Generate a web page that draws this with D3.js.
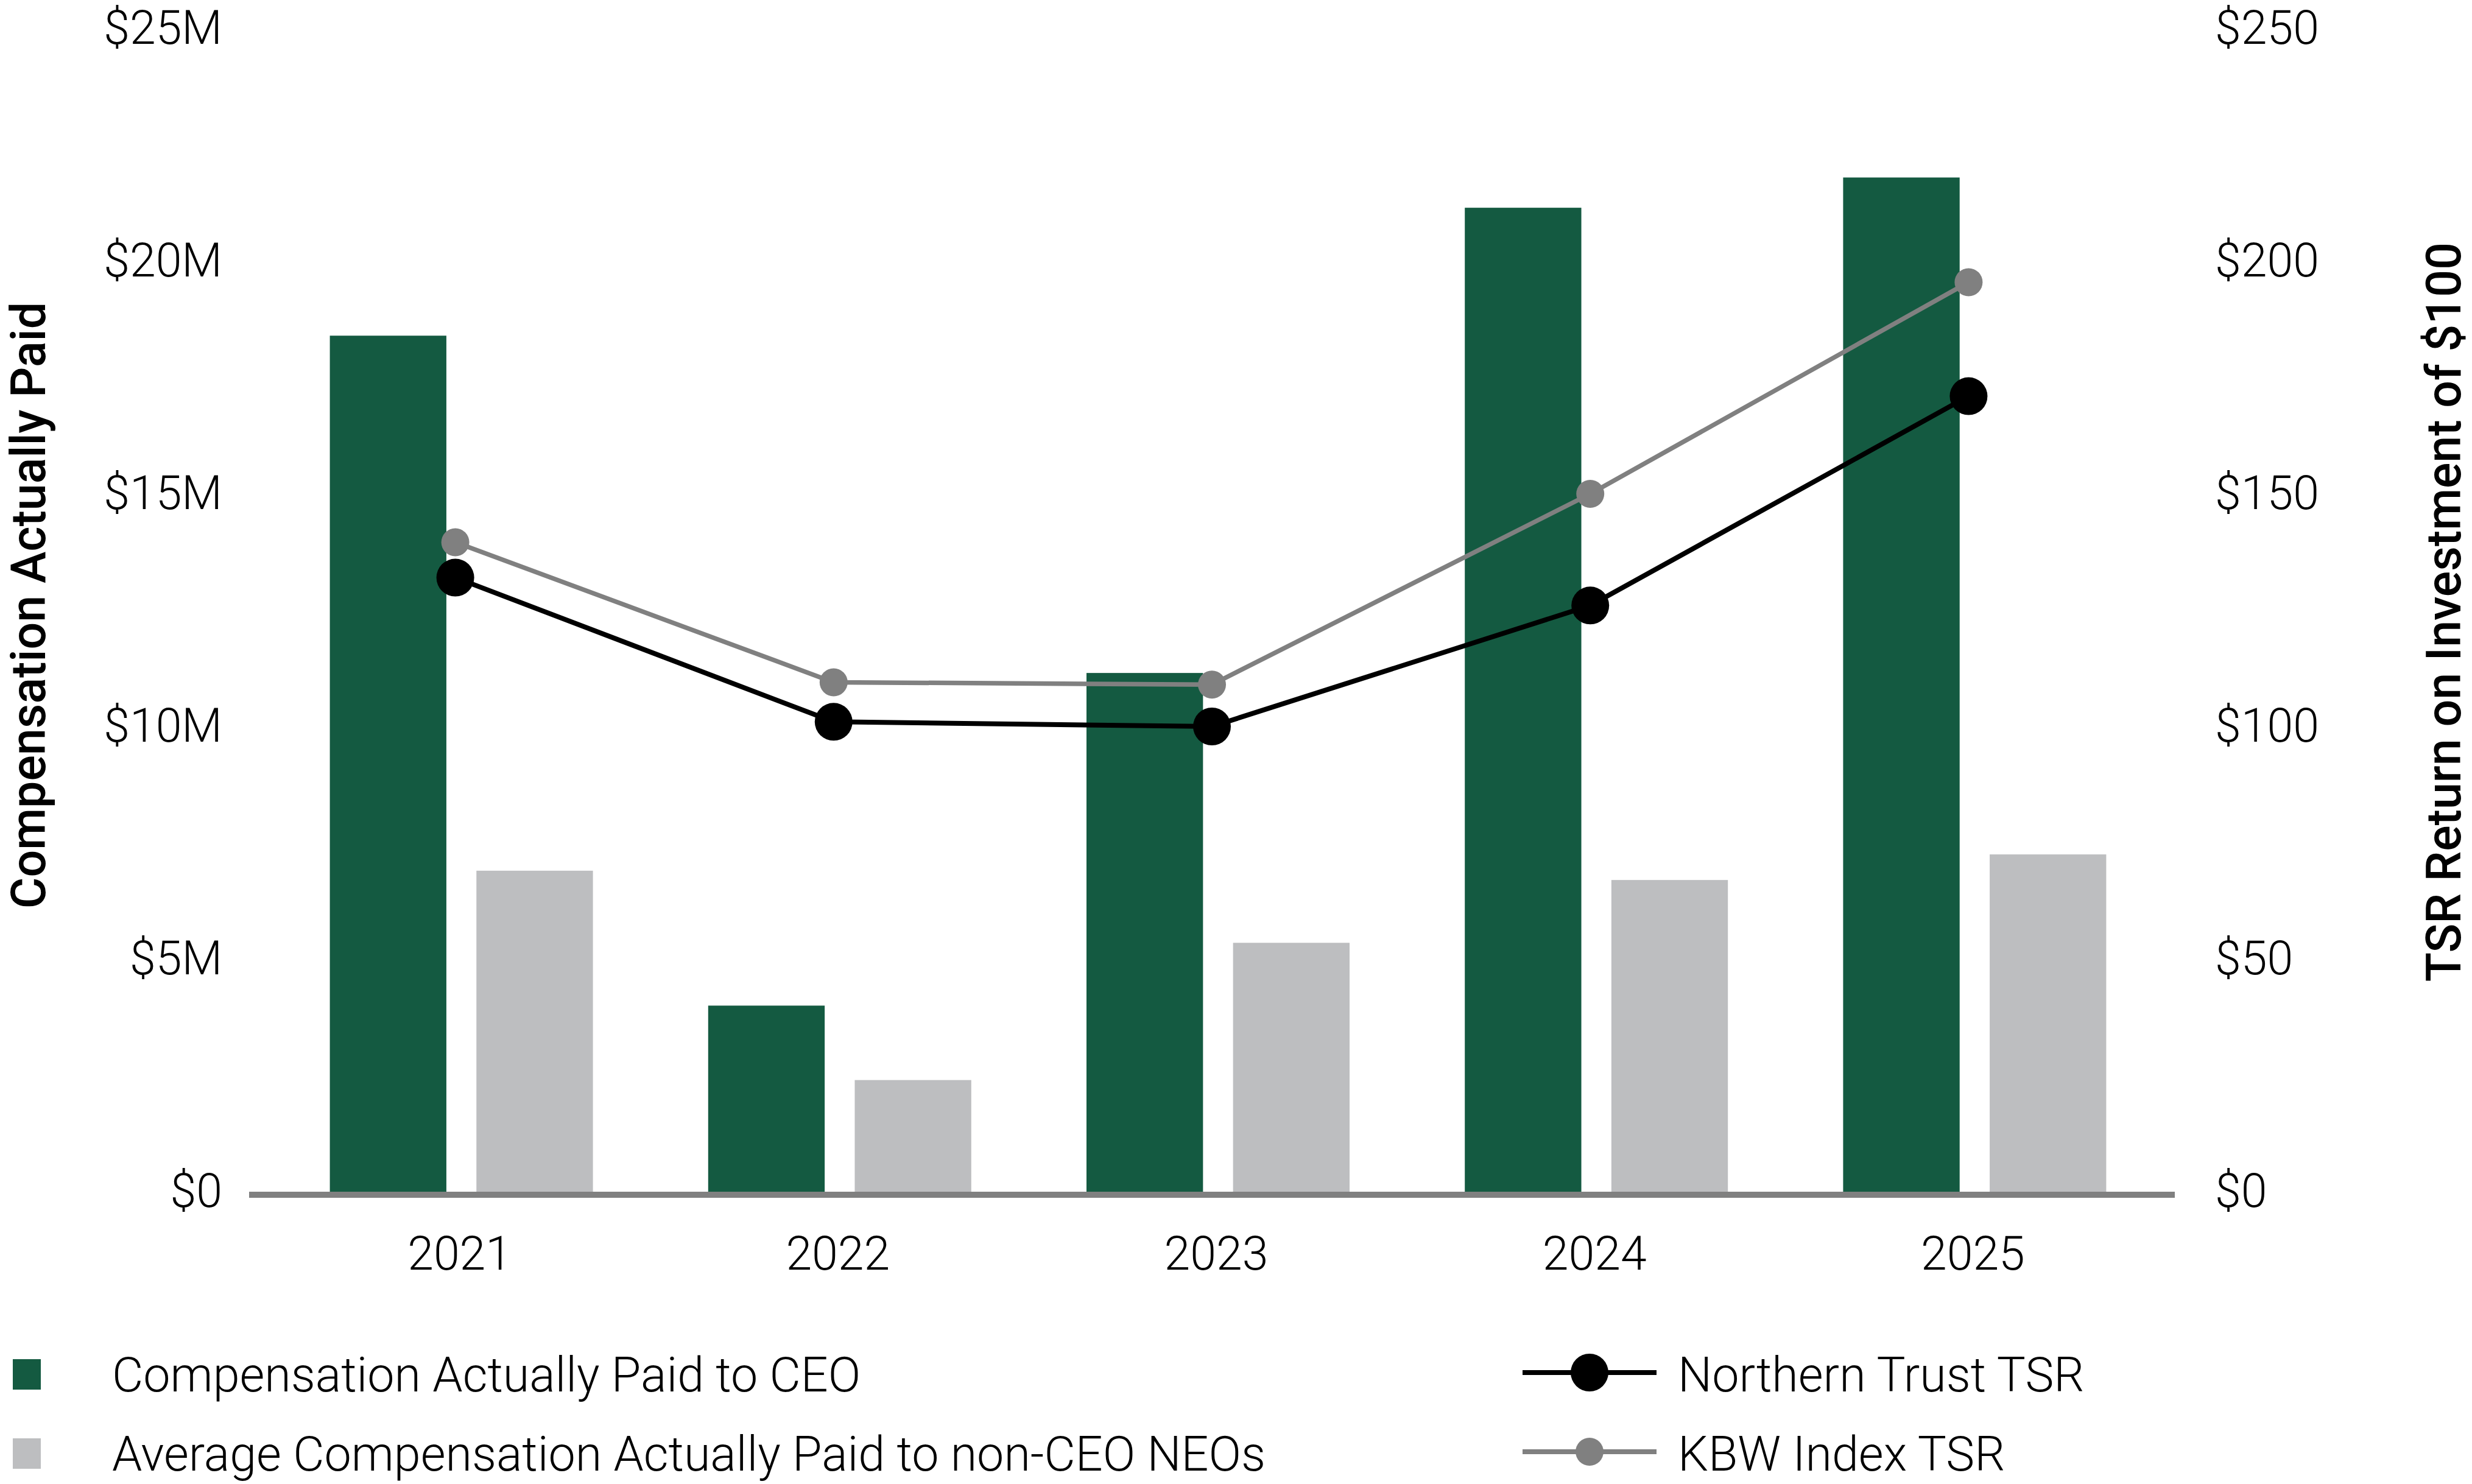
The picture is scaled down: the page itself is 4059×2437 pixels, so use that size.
<!DOCTYPE html>
<html>
<head>
<meta charset="utf-8">
<script src="https://cdn.jsdelivr.net/npm/d3@7"></script>
<style>
  html, body { margin: 0; padding: 0; background: #ffffff; }
  svg { display: block; font-family: Roboto, "Open Sans", sans-serif; }
</style>
</head>
<body>
<svg id="chart" width="4059" height="2437"></svg>
<script>
// ---- data ----
const years = ["2021", "2022", "2023", "2024", "2025"];
const ceoCAP = [18.4e6, 4.0e6, 11.15e6, 21.15e6, 21.8e6];
const neoCAP = [6.9e6, 2.4e6, 5.35e6, 6.7e6, 7.25e6];
const ntTSR = [132, 101, 100, 126, 171];
const kbwTSR = [139.6, 109.5, 109, 150, 195.5];
const leftTicks = [0, 5e6, 10e6, 15e6, 20e6, 25e6];
const rightTicks = [0, 50, 100, 150, 200, 250];
const legendBars = ["Compensation Actually Paid to CEO", "Average Compensation Actually Paid to non-CEO NEOs"];
const legendLines = ["Northern Trust TSR", "KBW Index TSR"];

// ---- style ----
const GREEN = "#145a41", LGRAY = "#bdbec0", AXIS = "#808080", KBW = "#808080", NT = "#000000";
const FS_TICK = 77, FS_LEG = 79, FS_TITLE = 79;

const svg = d3.select("#chart");
const plotTop = 47, plotBottom = 1957;

const x = d3.scaleBand().domain(years).range([447, 3553]).paddingInner(0).paddingOuter(0);
const inner = d3.scaleBand().domain(["ceo", "neo"]).range([x.bandwidth() / 2 - 216, x.bandwidth() / 2 + 216]).paddingInner(0.205);
const yL = d3.scaleLinear().domain([0, 25e6]).range([plotBottom, plotTop]);
const yR = d3.scaleLinear().domain([0, 250]).range([plotBottom, plotTop]);

// bars
const g = svg.append("g");
years.forEach((yr, i) => {
  const gx = x(yr);
  g.append("rect").attr("x", gx + inner("ceo")).attr("width", inner.bandwidth())
    .attr("y", yL(ceoCAP[i])).attr("height", yL(0) - yL(ceoCAP[i])).attr("fill", GREEN);
  g.append("rect").attr("x", gx + inner("neo")).attr("width", inner.bandwidth())
    .attr("y", yL(neoCAP[i])).attr("height", yL(0) - yL(neoCAP[i])).attr("fill", LGRAY);
});

// baseline axis line
const xr = x.range();
svg.append("line").attr("x1", xr[0] - 38).attr("x2", xr[1] + 18)
  .attr("y1", yL(0) + 5).attr("y2", yL(0) + 5)
  .attr("stroke", AXIS).attr("stroke-width", 10);

// left axis
const fmtL = v => v === 0 ? "$0" : "$" + (v / 1e6) + "M";
const axL = svg.append("g").attr("transform", "translate(365,0)")
  .call(d3.axisLeft(yL).tickValues(leftTicks).tickFormat(fmtL).tickSize(0).tickPadding(0));
axL.select(".domain").remove();
axL.selectAll("text").attr("font-size", FS_TICK).attr("font-weight", 300).attr("fill", "#000")
  .attr("font-family", "Roboto");

// right axis
const axR = svg.append("g").attr("transform", "translate(3637,0)")
  .call(d3.axisRight(yR).tickValues(rightTicks).tickFormat(v => "$" + v).tickSize(0).tickPadding(0));
axR.select(".domain").remove();
axR.selectAll("text").attr("font-size", FS_TICK).attr("font-weight", 300).attr("fill", "#000")
  .attr("font-family", "Roboto");

// x axis labels
const axX = svg.append("g").attr("transform", `translate(0,${yL(0) + 73})`)
  .call(d3.axisBottom(x).tickSize(0).tickPadding(0));
axX.select(".domain").remove();
axX.selectAll("text").attr("font-size", FS_TICK).attr("font-weight", 300).attr("fill", "#000")
  .attr("font-family", "Roboto").attr("dx", -3);

// axis titles
svg.append("text").attr("transform", `translate(74,${(plotTop + plotBottom) / 2 - 8}) rotate(-90)`)
  .attr("text-anchor", "middle").attr("font-size", FS_TITLE).attr("font-weight", 500)
  .attr("font-family", "Roboto").attr("fill", "#000").text("Compensation Actually Paid");
svg.append("text").attr("transform", `translate(4040,${(plotTop + plotBottom) / 2 + 3}) rotate(-90)`)
  .attr("text-anchor", "middle").attr("font-size", FS_TITLE).attr("font-weight", 500)
  .attr("font-family", "Roboto").attr("fill", "#000").text("TSR Return on Investment of $100");

// lines (points sit slightly left of the group centre, as in the source)
const cx = yr => x(yr) + x.bandwidth() / 2 - 10;
const lineGen = d3.line().x(d => cx(d[0])).y(d => yR(d[1]));
const kbwPts = years.map((yr, i) => [yr, kbwTSR[i]]);
const ntPts = years.map((yr, i) => [yr, ntTSR[i]]);
svg.append("path").attr("d", lineGen(kbwPts)).attr("fill", "none").attr("stroke", KBW).attr("stroke-width", 7.5);
svg.selectAll(".kbw").data(kbwPts).enter().append("circle")
  .attr("cx", d => cx(d[0])).attr("cy", d => yR(d[1])).attr("r", 23).attr("fill", KBW);
svg.append("path").attr("d", lineGen(ntPts)).attr("fill", "none").attr("stroke", NT).attr("stroke-width", 8);
svg.selectAll(".nt").data(ntPts).enter().append("circle")
  .attr("cx", d => cx(d[0])).attr("cy", d => yR(d[1])).attr("r", 31).attr("fill", NT);

// legend - bars
const legY = [2257, 2387];
const barColors = [GREEN, LGRAY];
legendBars.forEach((t, i) => {
  svg.append("rect").attr("x", 21).attr("y", legY[i] - 25).attr("width", 46).attr("height", 50).attr("fill", barColors[i]);
  svg.append("text").attr("x", 184).attr("y", legY[i]).attr("dy", "0.35em")
    .attr("font-size", FS_LEG).attr("font-weight", 300).attr("font-family", "Roboto").attr("fill", "#000").text(t);
});
// legend - lines
const lineColors = [NT, KBW];
const lineR = [31, 23];
legendLines.forEach((t, i) => {
  const ly = legY[i] - 3;
  svg.append("line").attr("x1", 2500).attr("x2", 2720).attr("y1", ly).attr("y2", ly)
    .attr("stroke", lineColors[i]).attr("stroke-width", 8);
  svg.append("circle").attr("cx", 2610).attr("cy", ly).attr("r", lineR[i]).attr("fill", lineColors[i]);
  svg.append("text").attr("x", 2755).attr("y", legY[i]).attr("dy", "0.35em")
    .attr("font-size", FS_LEG).attr("font-weight", 300).attr("font-family", "Roboto").attr("fill", "#000").text(t);
});
</script>
</body>
</html>
